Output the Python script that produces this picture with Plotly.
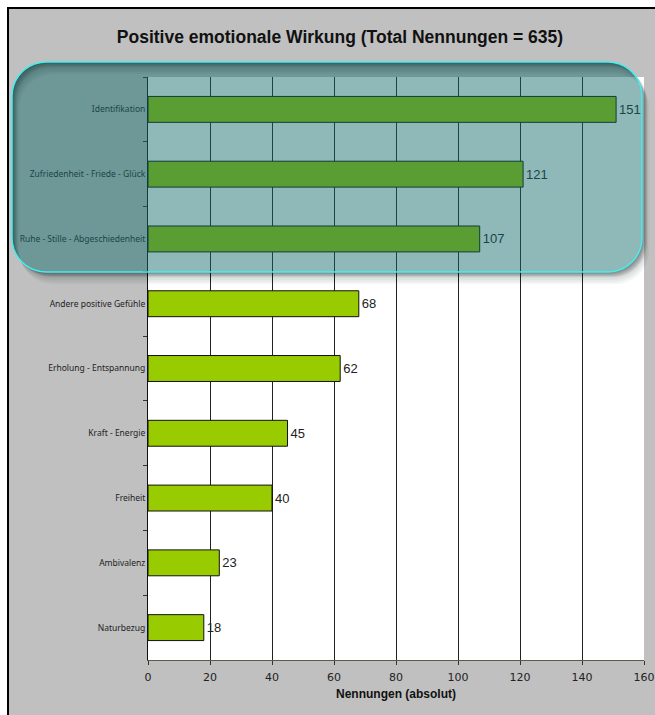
import math
import plotly.graph_objects as go

categories = [
    "Identifikation",
    "Zufriedenheit - Friede - Glück",
    "Ruhe - Stille - Abgeschiedenheit",
    "Andere positive Gefühle",
    "Erholung - Entspannung",
    "Kraft - Energie",
    "Freiheit",
    "Ambivalenz",
    "Naturbezug",
]
values = [151, 121, 107, 68, 62, 45, 40, 23, 18]
x_ticks = [0, 20, 40, 60, 80, 100, 120, 140, 160]
title_text = "Positive emotionale Wirkung (Total Nennungen = 635)"
x_title = "Nennungen (absolut)"

W, H = 655, 715
ML, MR, MT, MB = 148, 11, 77, 55
PW, PH = W - ML - MR, H - MT - MB


def px2x(px):
    return (px - ML) / PW


def py2y(py):
    return (H - MB - py) / PH


def rr_points(x0, y0, x1, y1, r, n=10):
    pts = []
    corners = [
        (x1 - r, y0 + r, -90, 0),
        (x1 - r, y1 - r, 0, 90),
        (x0 + r, y1 - r, 90, 180),
        (x0 + r, y0 + r, 180, 270),
    ]
    for cx, cy, a0, a1 in corners:
        for i in range(n + 1):
            a = math.radians(a0 + (a1 - a0) * i / n)
            pts.append((cx + r * math.cos(a), cy + r * math.sin(a)))
    return pts


def subpath(pts):
    return "M" + " L".join(f"{px2x(x):.5f},{py2y(y):.5f}" for x, y in pts) + " Z"


def ring(outer, inner):
    return subpath(outer) + " " + subpath(list(reversed(inner)))


BX0, BY0, BX1, BY1, BR = 12, 62, 642, 272, 34
main_pts = rr_points(BX0, BY0, BX1, BY1, BR)

fig = go.Figure()
fig.add_trace(go.Bar(
    y=categories,
    x=values,
    orientation="h",
    marker=dict(color="#99cc00", line=dict(color="#111111", width=1)),
    text=[str(v) for v in values],
    textposition="outside",
    cliponaxis=False,
    textfont=dict(family="Liberation Sans", size=13, color="#222222"),
    hoverinfo="skip",
))

shapes = []
# white strips outside the frame
shapes.append(dict(type="rect", xref="paper", yref="paper", x0=px2x(-20), x1=px2x(7), y0=py2y(800), y1=py2y(-20),
                   fillcolor="white", line=dict(width=0), layer="below"))
shapes.append(dict(type="rect", xref="paper", yref="paper", x0=px2x(-20), x1=px2x(700), y0=py2y(7), y1=py2y(-20),
                   fillcolor="white", line=dict(width=0), layer="below"))
# frame border (top and left)
shapes.append(dict(type="line", xref="paper", yref="paper", x0=px2x(8), x1=px2x(8), y0=py2y(7), y1=py2y(800),
                   line=dict(color="black", width=2), layer="below"))
shapes.append(dict(type="line", xref="paper", yref="paper", x0=px2x(7), x1=px2x(700), y0=py2y(8), y1=py2y(8),
                   line=dict(color="black", width=2), layer="below"))
# drop shadow outside (bottom-right)
for s in [1, 2, 3, 4, 5]:
    shifted = rr_points(BX0 + s, BY0 + s, BX1 + s, BY1 + s, BR)
    shapes.append(dict(type="path", xref="paper", yref="paper", path=ring(shifted, main_pts),
                       fillcolor="rgba(0,0,0,0.07)", line=dict(width=0), layer="above"))
# overlay fill
shapes.append(dict(type="path", xref="paper", yref="paper", path=subpath(main_pts),
                   fillcolor="rgba(20,106,106,0.48)", line=dict(width=0), layer="above"))
# inner shadow (top-left)
for d in [2, 4, 6, 8, 10, 12]:
    shifted = rr_points(BX0 + 0.6 * d, BY0 + d, BX1 + 0.6 * d, BY1 + d, BR)
    shapes.append(dict(type="path", xref="paper", yref="paper", path=ring(main_pts, shifted),
                       fillcolor="rgba(0,30,30,0.045)", line=dict(width=0), layer="above"))
# cyan outline
shapes.append(dict(type="path", xref="paper", yref="paper", path=subpath(main_pts),
                   fillcolor="rgba(0,0,0,0)", line=dict(color="#44eeee", width=1.5), layer="above"))
fig.update_layout(shapes=shapes)

fig.update_layout(
    width=W, height=H,
    margin=dict(l=ML, r=MR, t=MT, b=MB, pad=0),
    paper_bgcolor="#c0c0c0",
    plot_bgcolor="white",
    showlegend=False,
    bargap=0.6,
    title=dict(text=f"<b>{title_text}</b>", x=340 / W, xanchor="center", y=1 - 37 / H,
               yanchor="middle",
               font=dict(family="Liberation Sans", size=17.5, color="#111111")),
    xaxis=dict(
        range=[0, 160], tickvals=x_ticks, ticktext=[str(t) for t in x_ticks],
        automargin=False,
        showgrid=True, gridcolor="#222222", gridwidth=1,
        showline=True, linecolor="#5a5a48", linewidth=1,
        ticks="outside", ticklen=4, tickcolor="#333333", ticklabelstandoff=3,
        tickfont=dict(family="DejaVu Sans", size=11, color="#222222"),
        zeroline=False,
        title=dict(text=f"<b>{x_title}</b>", standoff=6,
                   font=dict(family="Liberation Sans", size=12, color="#111111")),
    ),
    yaxis=dict(
        autorange="reversed", automargin=False,
        showgrid=False, showline=True, linecolor="#111111", linewidth=1,
        ticks="outside", ticklen=4, tickcolor="#333333", tickson="boundaries",
        tickfont=dict(family="Noto Sans", size=8.5, color="#222222"),
        zeroline=False,
    ),
)

fig.write_html("out.html", config={"displayModeBar": False, "staticPlot": True},
               post_script="document.body.style.margin='0';document.body.style.overflow='hidden';")
